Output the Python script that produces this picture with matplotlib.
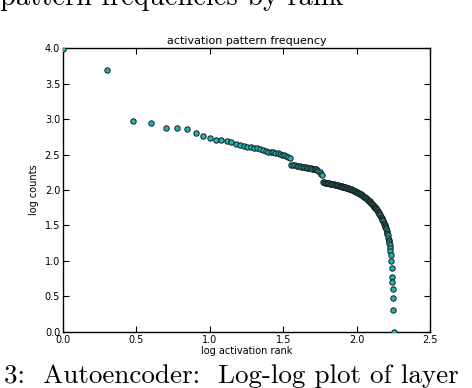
import numpy as np
import matplotlib
matplotlib.use("Agg")
import matplotlib.pyplot as plt

# pattern counts, sorted by rank (rank 1 = most frequent)
counts = [
    9900, 5000, 930, 870, 740, 740, 725, 645, 575, 537,
    513, 501, 490, 480, 447, 427, 417, 407, 405, 398,
    389, 380, 363, 355, 347, 347, 339, 331, 331, 324,
    316, 309, 302, 295, 282,
    229, 226, 224, 221, 219, 216, 214, 211, 209, 209,
    207, 204, 204, 202, 200, 200, 197, 195, 191, 186,
    178, 170, 162,
    129, 128, 127, 127, 126, 125, 124, 123, 122, 122,
    121, 120, 119, 118, 118, 117, 116, 115, 114, 114,
    113, 112, 111, 110, 110, 109, 108, 107, 106, 106,
    105, 104, 103, 102, 101, 100, 99, 98, 97, 96,
    95, 94,
    93, 92, 91, 90, 89, 88, 87, 85, 84, 83,
    82, 81, 80, 79, 78, 77, 75, 74, 73, 72,
    71, 70, 69, 68, 66, 65, 64, 63, 62, 61,
    60, 58, 57, 56, 55, 54, 53, 52, 50, 49,
    48, 47, 46, 45, 44, 42, 41, 40, 39, 38,
    37, 36, 34, 33, 32, 31, 30, 29, 28, 26,
    25, 24, 23, 21, 20, 19, 18, 17, 15, 14,
    12, 10, 8, 6, 5, 4, 3, 2, 1,
]
ranks = np.arange(1, len(counts) + 1)

title = "activation pattern frequency"
xlabel = "log activation rank"
ylabel = "log counts"
xticks = [0.0, 0.5, 1.0, 1.5, 2.0, 2.5]
yticks = [0.0, 0.5, 1.0, 1.5, 2.0, 2.5, 3.0, 3.5, 4.0]
caption_top = "pattern frequencies by rank"
caption_bottom = "3:  Autoencoder:  Log-log plot of layer"

fig = plt.figure(figsize=(4.72, 3.88), dpi=100)
ax = fig.add_axes([0.1335, 0.145, 0.7775, 0.7305])

ax.scatter(np.log10(ranks), np.log10(counts), s=15, c="#1fb5b5",
           edgecolors="#1a1a1a", linewidths=0.7, zorder=3)

ax.set_xlim(0, 2.5)
ax.set_ylim(0, 4.0)
ax.set_xticks(xticks)
ax.set_yticks(yticks)
ax.set_xticklabels([f"{t:.1f}" for t in xticks])
ax.set_yticklabels([f"{t:.1f}" for t in yticks])
ax.tick_params(direction="in", top=True, right=True, labelsize=7,
               length=4, width=0.8, pad=2)
for sp in ax.spines.values():
    sp.set_linewidth(1.0)
ax.set_title(title, fontsize=8, pad=3)
ax.set_xlabel(xlabel, fontsize=7, labelpad=1)
ax.set_ylabel(ylabel, fontsize=7, labelpad=4)

fig.text(0.0, 1 - 5 / 388, caption_top, family="cmr10", fontsize=20.5,
         va="baseline", ha="left")
fig.text(0.008, 1 - 383 / 388, caption_bottom, family="cmr10", fontsize=19.5,
         va="baseline", ha="left")

fig.savefig("out.png", dpi=100)
